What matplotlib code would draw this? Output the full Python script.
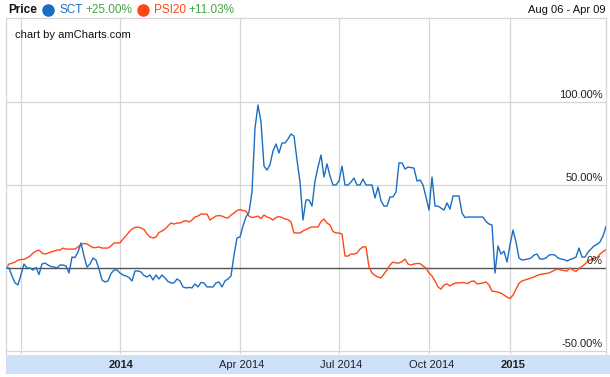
import numpy as np
import matplotlib.pyplot as plt
import matplotlib.transforms as mtransforms
from matplotlib.lines import Line2D

plt.rcParams['font.family'] = ['Liberation Sans', 'DejaVu Sans']

# Percent change vs first day, one value per category step (amCharts category axis)
sct = [0, 0, -4.8, -9.0, -10.2, -3.9, 2.4, 0, 0, -1.2,
       0.3, -3.9, 2.4, 3.0, 1.8, 0.9, 0.6, 0, 1.8, 1.8,
       1.2, -3.0, 6.6, 6.3, 9.6, 15.1, 7.2, 0.6, 2.4, 6.0,
       4.8, -0.6, -7.2, -8.4, -7.8, -3.3, -1.2, -1.2, -3.0, -4.2,
       -4.8, -5.7, -7.8, -1.8, -1.8, -2.4, -4.5, -5.4, -4.2, -7.2,
       -4.2, -6.6, -4.2, -6.0, -8.1, -9.0, -9.0, -6.6, -7.8, -11.4,
       -12.0, -11.7, -12.0, -9.6, -11.4, -8.7, -9.0, -11.4, -11.4, -11.4,
       -9.0, -8.4, -11.4, -7.8, -6.6, -4.8, 7.8, 18.1, 18.7, 25.3,
       30.7, 33.7, 45.8, 84.3, 98.2, 88.0, 61.4, 59.0, 62.3, 70.5,
       74.7, 69.3, 75.3, 75.3, 77.7, 80.7, 79.5, 65.1, 51.8, 28.9,
       41.0, 41.0, 37.3, 52.4, 60.8, 68.1, 54.8, 62.7, 55.4, 50.0,
       50.0, 52.4, 61.4, 50.0, 50.0, 51.8, 54.2, 50.0, 50.0, 53.6,
       50.0, 50.0, 50.0, 42.2, 48.8, 40.4, 37.3, 37.3, 42.8, 42.8,
       45.8, 63.3, 63.3, 59.6, 60.8, 60.5, 60.2, 52.4, 53.0, 50.0,
       42.8, 34.9, 54.8, 37.3, 37.3, 36.1, 34.9, 39.2, 35.5, 43.4,
       43.4, 43.4, 33.1, 30.4, 30.7, 30.7, 30.7, 30.7, 30.7, 30.7,
       28.0, 26.5, 25.9, -3.0, 13.3, 8.4, 10.2, 3.6, 13.9, 22.9,
       15.7, 6.0, 4.8, 5.1, 5.4, 6.0, 7.8, 8.4, 5.4, 5.4,
       6.0, 7.8, 8.1, 7.8, 6.0, 5.4, 5.1, 4.2, 5.1, 5.7,
       6.6, 12.0, 6.6, 6.6, 9.6, 11.4, 13.3, 14.2, 15.7, 19.3,
       25.0]

psi20 = [0, 2.4, 2.9, 3.6, 4.8, 5.1, 5.2, 6.0, 7.2, 9.0,
         10.2, 10.8, 9.0, 8.4, 9.0, 9.6, 10.2, 10.8, 10.8, 12.0,
         11.4, 11.4, 11.4, 11.4, 12.7, 14.2, 14.8, 14.5, 13.3, 12.3,
         12.3, 12.7, 12.0, 12.0, 12.0, 13.3, 15.1, 15.1, 15.1, 17.5,
         19.3, 21.7, 23.5, 24.4, 24.7, 24.1, 23.2, 20.5, 18.7, 18.1,
         18.7, 21.4, 22.3, 23.5, 25.3, 27.1, 26.5, 27.1, 27.1, 28.0,
         28.6, 27.7, 28.9, 30.7, 31.3, 32.5, 32.5, 32.5, 28.9, 30.1,
         31.3, 31.6, 31.3, 30.4, 30.1, 31.9, 33.1, 34.6, 35.2, 34.6,
         34.3, 31.3, 30.4, 30.7, 31.3, 29.8, 31.9, 30.7, 30.1, 28.9,
         30.4, 31.0, 30.4, 29.5, 29.2, 27.7, 21.1, 21.1, 21.1, 22.3,
         23.2, 24.1, 24.7, 24.7, 24.7, 28.0, 29.5, 27.1, 25.9, 22.0,
         21.1, 21.1, 20.5, 7.2, 7.2, 8.4, 8.4, 9.0, 11.4, 12.7,
         12.7, 0.6, -3.0, -4.5, -5.4, -6.0, -3.6, -1.2, 1.8, 3.6,
         3.0, 3.0, 3.9, 5.4, 2.4, 1.8, 2.4, 2.7, 2.7, 1.2,
         0, -3.0, -4.8, -7.8, -11.4, -12.7, -10.2, -9.6, -10.8, -9.6,
         -9.0, -9.0, -8.7, -9.0, -9.3, -8.1, -7.8, -9.6, -9.3, -9.0,
         -8.4, -10.2, -13.9, -14.2, -14.5, -15.1, -16.3, -17.5, -18.4, -16.3,
         -12.7, -9.3, -7.8, -7.2, -6.6, -6.0, -5.4, -4.5, -3.9, -3.6,
         -3.3, -3.0, -2.1, -1.2, -0.6, -1.2, -1.5, -1.8, 0, -1.2,
         -2.1, -0.3, 0.9, 2.4, 4.2, 5.1, 5.7, 6.3, 8.4, 9.9,
         11.03]

tick_pos = [5, 38, 78, 111, 141, 168]
tick_labels = ['', '2014', 'Apr 2014', 'Jul 2014', 'Oct 2014', '2015']
tick_bold = [False, True, False, False, False, True]
y_ticks = [100, 50, 0, -50]
y_labels = ['100.00%', '50.00%', '0%', '-50.00%']

blue = '#1b6ec2'
red = '#ff4719'
green = '#46a546'
grid = '#d6d6d6'

W, H = 610, 377
fig = plt.figure(figsize=(W / 100, H / 100), dpi=100)

# main plot area (pixel box 6..606 x 18..354)
ax = fig.add_axes([6 / W, 1 - 354 / H, 600 / W, 336 / H])
x = np.arange(len(sct))
ax.set_xlim(0, len(sct) - 1)
ax.set_ylim(-51.8, 150.6)
for t in tick_pos:
    ax.axvline(t, color=grid, lw=0.9, zorder=0)
for v in [100, 50, -50]:
    ax.axhline(v, color=grid, lw=0.9, zorder=0)
ax.axhline(0, color='#555555', lw=1.0, zorder=1)
ax.plot(x, sct, color=blue, lw=1.0, zorder=3)
ax.plot(x, psi20, color=red, lw=1.0, zorder=2)
ax.set_xticks([])
ax.set_yticks([])
for s in ['top', 'left', 'right']:
    ax.spines[s].set_color(grid)
    ax.spines[s].set_linewidth(0.9)
ax.spines['bottom'].set_visible(False)

trans = mtransforms.blended_transform_factory(ax.transAxes, ax.transData)
for v, lab in zip(y_ticks, y_labels):
    ax.text(0.995, v + 1.5, lab, transform=trans, ha='right', va='bottom',
            fontsize=8, color='#222222')

ax.text(0.015, 0.965, 'chart by amCharts.com', transform=ax.transAxes,
        ha='left', va='top', fontsize=8, color='#111111')

# category axis band
band = fig.add_axes([6 / W, 1 - 374 / H, 604 / W, 19 / H])
band.set_facecolor('#cfe1f8')
band.set_xlim(0, len(sct) - 1)
band.set_ylim(0, 1)
band.set_xticks([])
band.set_yticks([])
for s in band.spines.values():
    s.set_visible(False)
for p, lab, b in zip(tick_pos, tick_labels, tick_bold):
    band.text(p, 0.45, lab, ha='center', va='center', fontsize=8,
              fontweight='bold' if b else 'normal', color='#222222')

# header / legend row
ty = 1 - 10 / H
fig.text(8 / W, ty, 'Price', ha='left', va='center', fontsize=8.5,
         fontweight='bold', color='#111111')
fig.add_artist(Line2D([48 / W], [ty], marker='o', ms=8, color=blue,
                      transform=fig.transFigure))
fig.text(60 / W, ty, 'SCT', ha='left', va='center', fontsize=8.5, color=blue)
fig.text(85 / W, ty, '+25.00%', ha='left', va='center', fontsize=8.5, color=green)
fig.add_artist(Line2D([143 / W], [ty], marker='o', ms=8, color=red,
                      transform=fig.transFigure))
fig.text(154 / W, ty, 'PSI20', ha='left', va='center', fontsize=8.5, color=red)
fig.text(188 / W, ty, '+11.03%', ha='left', va='center', fontsize=8.5, color=green)
fig.text(606 / W, ty, 'Aug 06 - Apr 09', ha='right', va='center', fontsize=8,
         color='#111111')

fig.savefig('out.png', dpi=100)
